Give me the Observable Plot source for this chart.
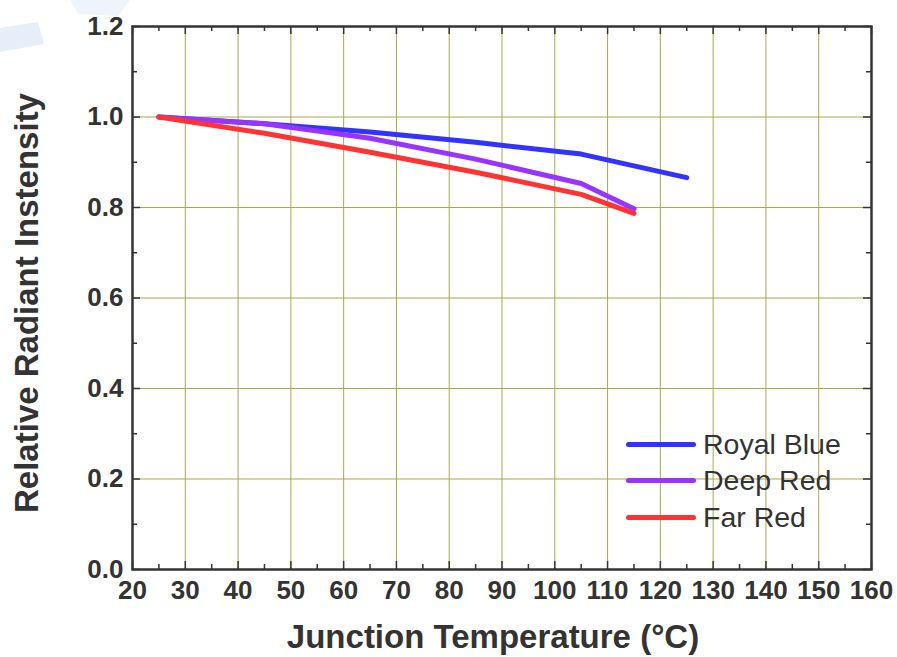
<!DOCTYPE html>
<html>
<head>
<meta charset="utf-8">
<script src="https://cdn.jsdelivr.net/npm/d3@7"></script>
<script src="https://cdn.jsdelivr.net/npm/@observablehq/plot@0.6"></script>
<style>
  html, body { margin: 0; padding: 0; background: #fff; }
  #wrap { position: relative; width: 897px; height: 657px; overflow: hidden; }
  #wm { position: absolute; left: 0; top: 0; pointer-events: none; }
  #chart { position: absolute; left: 0; top: 0; }
  #legend { position: absolute; left: 626px; top: 426px; font-family: "Liberation Sans", Arial, sans-serif; font-size: 28.5px; color: #333; }
  #legend .row { display: flex; align-items: center; height: 36.5px; }
  #legend .sw { width: 70px; height: 5px; border-radius: 3px; margin-right: 7px; }
</style>
</head>
<body>
<div id="wrap">
  <svg id="wm" width="897" height="657">
    <polygon points="0,28 38,22 44,44 0,52" fill="#e6eff9"/>
    <polygon points="70,0 130,0 118,16 78,14" fill="#eef4fb"/>
  </svg>
  <div id="chart"></div>
  <div id="legend"></div>
</div>
<script>
// ---- data ----
const seriesNames = ["Royal Blue", "Deep Red", "Far Red"];
const seriesColors = ["#3333ff", "#9933ff", "#ff3333"];

const royalBlueTemp = [25, 45, 65, 85, 105, 115, 125];
const royalBlueVal  = [1.000, 0.985, 0.967, 0.944, 0.918, 0.892, 0.866];

const deepRedTemp = [25, 45, 65, 85, 105, 115];
const deepRedVal  = [1.000, 0.985, 0.953, 0.907, 0.853, 0.797];

const farRedTemp = [25, 45, 65, 85, 105, 115];
const farRedVal  = [1.000, 0.964, 0.922, 0.878, 0.829, 0.787];

const xTicks = [20, 30, 40, 50, 60, 70, 80, 90, 100, 110, 120, 130, 140, 150, 160];
const xMinor = [25, 35, 45, 55, 65, 75, 85, 95, 105, 115, 125, 135, 145, 155];
const yTicks = [0.0, 0.2, 0.4, 0.6, 0.8, 1.0, 1.2];
const yMinor = [0.1, 0.3, 0.5, 0.7, 0.9, 1.1];

const xTitle = "Junction Temperature (°C)";
const yTitle = "Relative Radiant Instensity";

// ---- build table ----
const temps = [royalBlueTemp, deepRedTemp, farRedTemp];
const vals = [royalBlueVal, deepRedVal, farRedVal];
const rows = [];
seriesNames.forEach((name, i) => {
  temps[i].forEach((t, j) => rows.push({series: name, t, v: vals[i][j]}));
});

const W = 897, H = 657;
const mL = 132, mR = 26, mT = 26, mB = 88;
const innerW = W - mL - mR, innerH = H - mT - mB;
const gridColor = "#a8a84c";
const axisColor = "#333";
const font = "'Liberation Sans', Arial, Helvetica, sans-serif";

const chart = Plot.plot({
  width: W, height: H,
  marginLeft: mL, marginRight: mR, marginTop: mT, marginBottom: mB,
  style: {fontFamily: font, background: "transparent", color: axisColor},
  x: {domain: [20, 160]},
  y: {domain: [0, 1.2]},
  color: {domain: seriesNames, range: seriesColors},
  marks: [
    Plot.gridX(xTicks.slice(1, -1), {stroke: gridColor, strokeOpacity: 1, strokeWidth: 1}),
    Plot.gridY(yTicks.slice(1, -1), {stroke: gridColor, strokeOpacity: 1, strokeWidth: 1}),
    // inward ticks
    Plot.tickX(xTicks, {x: d => d, insetTop: innerH - 8, stroke: axisColor, strokeWidth: 1.5}),
    Plot.tickX(xMinor, {x: d => d, insetTop: innerH - 5, stroke: axisColor, strokeWidth: 1.5}),
    Plot.tickX(xTicks, {x: d => d, insetBottom: innerH - 8, stroke: axisColor, strokeWidth: 1.5}),
    Plot.tickX(xMinor, {x: d => d, insetBottom: innerH - 5, stroke: axisColor, strokeWidth: 1.5}),
    Plot.tickY(yTicks, {y: d => d, insetRight: innerW - 8, stroke: axisColor, strokeWidth: 1.5}),
    Plot.tickY(yMinor, {y: d => d, insetRight: innerW - 5, stroke: axisColor, strokeWidth: 1.5}),
    Plot.tickY(yTicks, {y: d => d, insetLeft: innerW - 8, stroke: axisColor, strokeWidth: 1.5}),
    Plot.tickY(yMinor, {y: d => d, insetLeft: innerW - 5, stroke: axisColor, strokeWidth: 1.5}),
    Plot.axisX(xTicks, {tickSize: 0, tickPadding: 11, fontSize: 26, fontWeight: "bold", fill: axisColor, label: null, tickFormat: d3.format("d")}),
    Plot.axisY(yTicks, {tickSize: 0, tickPadding: 9, fontSize: 26, fontWeight: "bold", fill: axisColor, label: null, tickFormat: d3.format(".1f")}),
    Plot.line(rows, {x: "t", y: "v", z: "series", stroke: "series", strokeWidth: 5, strokeLinecap: "round", strokeLinejoin: "round"}),
    Plot.frame({stroke: axisColor, strokeWidth: 2.5}),
    Plot.text([xTitle], {text: d => d, frameAnchor: "bottom", dx: -9, dy: 68, fontSize: 33, fontWeight: "bold", fill: axisColor, lineAnchor: "middle", textAnchor: "middle"}),
    Plot.text([yTitle], {text: d => d, frameAnchor: "left", dx: -105, dy: 5, rotate: -90, fontSize: 33, fontWeight: "bold", fill: axisColor, lineAnchor: "middle", textAnchor: "middle"})
  ]
});
document.getElementById("chart").appendChild(chart);

// legend
const legend = d3.select("#legend");
seriesNames.forEach((name, i) => {
  const row = legend.append("div").attr("class", "row");
  row.append("div").attr("class", "sw").style("background", seriesColors[i]);
  row.append("span").text(name);
});
</script>
</body>
</html>
